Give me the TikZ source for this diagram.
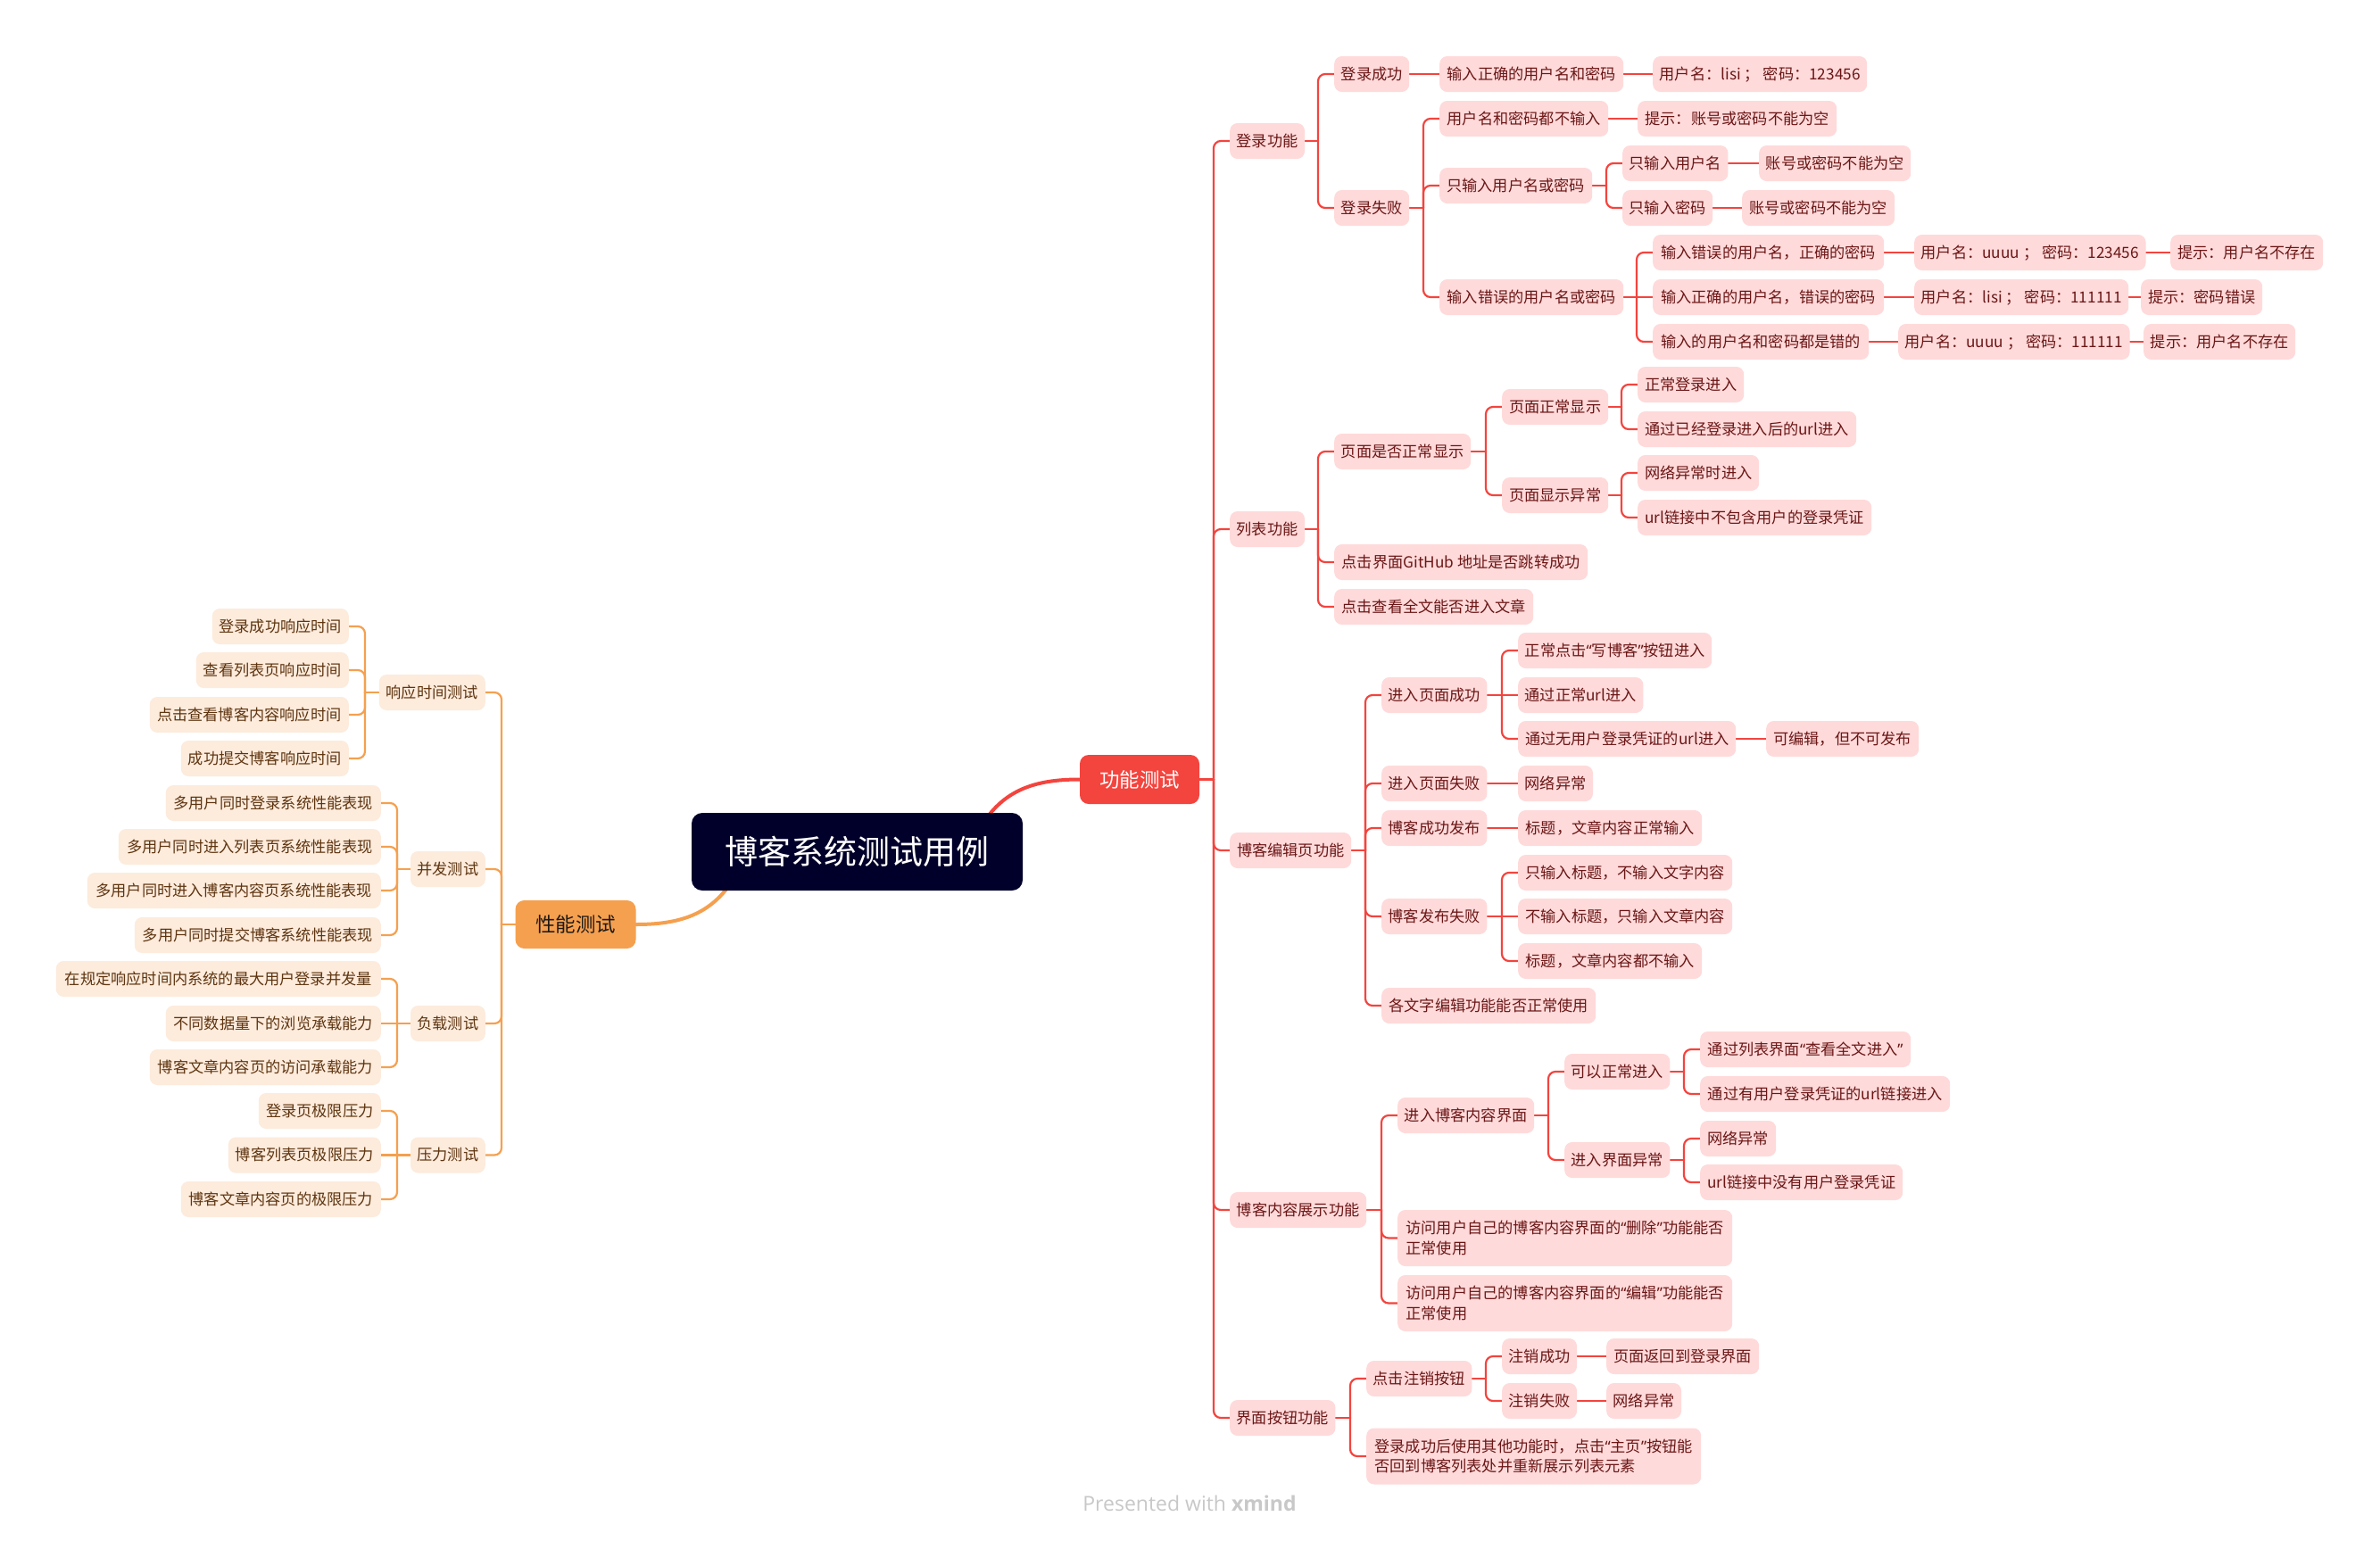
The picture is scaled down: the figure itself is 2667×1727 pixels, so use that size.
\documentclass[tikz,border=0pt]{standalone}
\usepackage{fontspec}
\setmainfont{Noto Sans CJK SC}
\newfontfamily\footfont{Open Sans}
\newfontfamily\quotefont{Noto Sans}
\newcommand\myoq{{\quotefont “}}
\newcommand\mycq{{\quotefont ”}}
\usetikzlibrary{calc,backgrounds}
\definecolor{redc}{HTML}{F4443E}
\definecolor{pkfill}{HTML}{FFDADA}
\definecolor{pktext}{HTML}{6B1616}
\definecolor{orc}{HTML}{F5A04F}
\definecolor{ogfill}{HTML}{FDEBDC}
\definecolor{ogtext}{HTML}{5E3510}
\definecolor{rootc}{HTML}{00002A}
\definecolor{footc}{HTML}{C8C8C8}
\definecolor{perftext}{HTML}{1E1A16}
\tikzset{
 bx/.style={rounded corners=8.5pt, inner xsep=7.5pt, inner ysep=0pt, font=\fontsize{17.2}{22.7}\selectfont},
 one/.style={bx, minimum height=40pt, text height=15.1pt, text depth=2.2pt},
 pk/.style={one, fill=pkfill, text=pktext, anchor=west},
 pkt/.style={bx, fill=pkfill, text=pktext, anchor=west, minimum height=63pt, align=left},
 og/.style={one, fill=ogfill, text=ogtext, anchor=east},
 rline/.style={draw=redc, line width=2.2pt, line cap=round, rounded corners=8pt},
 oline/.style={draw=orc, line width=2.2pt, line cap=round, rounded corners=8pt},
 topic/.style={rounded corners=10pt, inner sep=0pt, minimum width=134pt, minimum height=55pt, font=\fontsize{22.5}{22.5}\selectfont, text height=19.8pt, text depth=2.7pt},
}
\newcommand\PK[5]{\node[pk, minimum width={(#3-#2)*1pt}] (#1) at (#2,#4) {#5};}
\newcommand\PKT[5]{\node[pkt, minimum width={(#3-#2)*1pt}] (#1) at (#2,#4) {#5};}
\newcommand\OG[5]{\node[og, minimum width={(#3-#2)*1pt}] (#1) at (#3,#4) {#5};}
\newcommand\rcv[2]{\draw[rline] (#1.east) -- ($(#2.west |- #1.east)+(-18,0)$);
 \draw[rline] ($(#2.west |- #1.east)+(-18,0)$) |- (#2.west);}
\newcommand\rst[2]{\draw[rline] (#1.east) -- (#2.west);}
\newcommand\lcv[2]{\draw[oline] (#1.west) -- ($(#2.east |- #1.west)+(18,0)$);
 \draw[oline] ($(#2.east |- #1.west)+(18,0)$) |- (#2.east);}
\newcommand\lst[2]{\draw[oline] (#1.west) -- (#2.east);}
\begin{document}
\begin{tikzpicture}[x=1pt,y=-1pt]
\useasboundingbox (0,0) rectangle (2667,1727);
% root and main topics
\node[fill=rootc, text=white, rounded corners=12pt, minimum width=371pt, minimum height=87pt, inner sep=0pt, font=\fontsize{37}{37}\selectfont] (root) at (960.5,954.5) {博客系统测试用例};
\node[topic, fill=redc, text=white] (gn) at (1277,873.5) {功能测试};
\node[topic, fill=orc, text=perftext, minimum width=135pt, minimum height=54pt] (pn) at (645,1036) {性能测试};
% level 2 right
\PK{f1}{1378}{1461}{158}{登录功能}
\PK{f2}{1378}{1461}{593}{列表功能}
\PK{f3}{1378}{1514}{953}{博客编辑页功能}
\PK{f4}{1378}{1531}{1356}{博客内容展示功能}
\PK{f5}{1378}{1496}{1589}{界面按钮功能}
% login
\PK{a1}{1495}{1579}{83}{登录成功}
\PK{a2}{1495}{1579}{233}{登录失败}
\PK{a11}{1613}{1819}{83}{输入正确的用户名和密码}
\PK{a111}{1852}{2092}{83}{用户名：lisi ； 密码：123456}
\PK{a21}{1613}{1802}{133}{用户名和密码都不输入}
\PK{a211}{1835}{2058}{133}{提示：账号或密码不能为空}
\PK{a22}{1613}{1784}{208}{只输入用户名或密码}
\PK{a221}{1818}{1936}{183}{只输入用户名}
\PK{a2211}{1971}{2141}{183}{账号或密码不能为空}
\PK{a222}{1818}{1918}{233}{只输入密码}
\PK{a2221}{1952}{2123}{233}{账号或密码不能为空}
\PK{a23}{1613}{1819}{333}{输入错误的用户名或密码}
\PK{a231}{1852}{2111}{283}{输入错误的用户名，正确的密码}
\PK{a2311}{2145}{2399}{283}{用户名：uuuu ； 密码：123456}
\PK{a23111}{2432}{2603}{283}{提示：用户名不存在}
\PK{a232}{1852}{2111}{333}{输入正确的用户名，错误的密码}
\PK{a2321}{2145}{2365}{333}{用户名：lisi ； 密码：111111}
\PK{a23211}{2399}{2535}{333}{提示：密码错误}
\PK{a233}{1852}{2094}{383}{输入的用户名和密码都是错的}
\PK{a2331}{2127}{2367}{383}{用户名：uuuu ； 密码：111111}
\PK{a23311}{2402}{2572}{383}{提示：用户名不存在}
% list
\PK{b1}{1495}{1648}{506}{页面是否正常显示}
\PK{b2}{1495}{1779}{630}{点击界面GitHub 地址是否跳转成功}
\PK{b3}{1495}{1718}{680}{点击查看全文能否进入文章}
\PK{b11}{1683}{1802}{456}{页面正常显示}
\PK{b12}{1683}{1802}{555}{页面显示异常}
\PK{b111}{1835}{1954}{431}{正常登录进入}
\PK{b112}{1835}{2080}{481}{通过已经登录进入后的url进入}
\PK{b121}{1835}{1971}{530}{网络异常时进入}
\PK{b122}{1835}{2097}{580}{url链接中不包含用户的登录凭证}
% editor
\PK{c1}{1548}{1666}{779}{进入页面成功}
\PK{c2}{1548}{1666}{878}{进入页面失败}
\PK{c3}{1548}{1666}{928}{博客成功发布}
\PK{c4}{1548}{1666}{1027}{博客发布失败}
\PK{c5}{1548}{1788}{1127}{各文字编辑功能能否正常使用}
\PK{c11}{1701}{1918}{729}{正常点击\myoq 写博客\mycq 按钮进入}
\PK{c12}{1701}{1840}{779}{通过正常url进入}
\PK{c13}{1701}{1945}{828}{通过无用户登录凭证的url进入}
\PK{c131}{1979}{2150}{828}{可编辑，但不可发布}
\PK{c21}{1701}{1784}{878}{网络异常}
\PK{c31}{1701}{1907}{928}{标题，文章内容正常输入}
\PK{c41}{1701}{1941}{978}{只输入标题，不输入文字内容}
\PK{c42}{1701}{1941}{1027}{不输入标题，只输入文章内容}
\PK{c43}{1701}{1907}{1077}{标题，文章内容都不输入}
% content
\PK{d1}{1566}{1719}{1250}{进入博客内容界面}
\PKT{d2}{1566}{1941}{1387.5}{访问用户自己的博客内容界面的\myoq 删除\mycq 功能能否\\正常使用}
\PKT{d3}{1566}{1941}{1460.5}{访问用户自己的博客内容界面的\myoq 编辑\mycq 功能能否\\正常使用}
\PK{d11}{1753}{1871}{1201}{可以正常进入}
\PK{d12}{1753}{1871}{1300}{进入界面异常}
\PK{d111}{1905}{2141}{1176}{通过列表界面\myoq 查看全文进入\mycq}
\PK{d112}{1905}{2185}{1226}{通过有用户登录凭证的url链接进入}
\PK{d121}{1905}{1990}{1276}{网络异常}
\PK{d122}{1905}{2132}{1325}{url链接中没有用户登录凭证}
% buttons
\PK{e1}{1531}{1649}{1545}{点击注销按钮}
\PKT{e2}{1531}{1906}{1632}{登录成功后使用其他功能时，点击\myoq 主页\mycq 按钮能\\否回到博客列表处并重新展示列表元素}
\PK{e11}{1683}{1766}{1520}{注销成功}
\PK{e12}{1683}{1766}{1570}{注销失败}
\PK{e111}{1800}{1971}{1520}{页面返回到登录界面}
\PK{e121}{1800}{1883}{1570}{网络异常}
% left side
\OG{p1}{425}{544}{776}{响应时间测试}
\OG{p2}{461}{544}{974}{并发测试}
\OG{p3}{461}{544}{1147}{负载测试}
\OG{p4}{461}{544}{1294.5}{压力测试}
\OG{p11}{238}{391}{702}{登录成功响应时间}
\OG{p12}{220}{391}{751}{查看列表页响应时间}
\OG{p13}{168}{391}{801}{点击查看博客内容响应时间}
\OG{p14}{203}{391}{850}{成功提交博客响应时间}
\OG{p21}{186}{427}{900}{多用户同时登录系统性能表现}
\OG{p22}{133}{427}{949}{多用户同时进入列表页系统性能表现}
\OG{p23}{98}{427}{998}{多用户同时进入博客内容页系统性能表现}
\OG{p24}{151}{427}{1048}{多用户同时提交博客系统性能表现}
\OG{p31}{63}{427}{1097}{在规定响应时间内系统的最大用户登录并发量}
\OG{p32}{186}{427}{1147}{不同数据量下的浏览承载能力}
\OG{p33}{168}{427}{1196}{博客文章内容页的访问承载能力}
\OG{p41}{290}{427}{1245}{登录页极限压力}
\OG{p42}{256}{427}{1294.5}{博客列表页极限压力}
\OG{p43}{203}{427}{1344}{博客文章内容页的极限压力}
% footer
\node[font=\footfont\fontsize{23}{23}\selectfont, text=footc, inner sep=0pt] (ft) at (1333,1685) {Presented with \textbf{xmind}};
\begin{pgfonlayer}{background}
\fill[white] (0,0) rectangle (2667,1727);
\draw[redc, line width=4pt, line cap=round] (1100,925) .. controls (1125,885) and (1160,873.5) .. (gn.west);
\draw[orc, line width=4pt, line cap=round] (822,985) .. controls (797,1025) and (762,1036) .. (pn.east);
\rcv{gn}{f1}\rcv{gn}{f2}\rcv{gn}{f3}\rcv{gn}{f4}\rcv{gn}{f5}
\rcv{f1}{a1}\rcv{f1}{a2}
\rst{a1}{a11}\rst{a11}{a111}
\rcv{a2}{a21}\rcv{a2}{a22}\rcv{a2}{a23}
\rst{a21}{a211}
\rcv{a22}{a221}\rcv{a22}{a222}
\rst{a221}{a2211}\rst{a222}{a2221}
\rcv{a23}{a231}\rst{a23}{a232}\rcv{a23}{a233}
\rst{a231}{a2311}\rst{a2311}{a23111}
\rst{a232}{a2321}\rst{a2321}{a23211}
\rst{a233}{a2331}\rst{a2331}{a23311}
\rcv{f2}{b1}\rcv{f2}{b2}\rcv{f2}{b3}
\rcv{b1}{b11}\rcv{b1}{b12}
\rcv{b11}{b111}\rcv{b11}{b112}
\rcv{b12}{b121}\rcv{b12}{b122}
\rcv{f3}{c1}\rcv{f3}{c2}\rcv{f3}{c3}\rcv{f3}{c4}\rcv{f3}{c5}
\rcv{c1}{c11}\rst{c1}{c12}\rcv{c1}{c13}
\rst{c13}{c131}
\rst{c2}{c21}\rst{c3}{c31}
\rcv{c4}{c41}\rst{c4}{c42}\rcv{c4}{c43}
\rcv{f4}{d1}\rcv{f4}{d2}\rcv{f4}{d3}
\rcv{d1}{d11}\rcv{d1}{d12}
\rcv{d11}{d111}\rcv{d11}{d112}
\rcv{d12}{d121}\rcv{d12}{d122}
\rcv{f5}{e1}\rcv{f5}{e2}
\rcv{e1}{e11}\rcv{e1}{e12}
\rst{e11}{e111}\rst{e12}{e121}
\lcv{pn}{p1}\lcv{pn}{p2}\lcv{pn}{p3}\lcv{pn}{p4}
\lcv{p1}{p11}\lcv{p1}{p12}\lcv{p1}{p13}\lcv{p1}{p14}
\lcv{p2}{p21}\lcv{p2}{p22}\lcv{p2}{p23}\lcv{p2}{p24}
\lcv{p3}{p31}\lst{p3}{p32}\lcv{p3}{p33}
\lcv{p4}{p41}\lst{p4}{p42}\lcv{p4}{p43}
\end{pgfonlayer}
\end{tikzpicture}
\end{document}
